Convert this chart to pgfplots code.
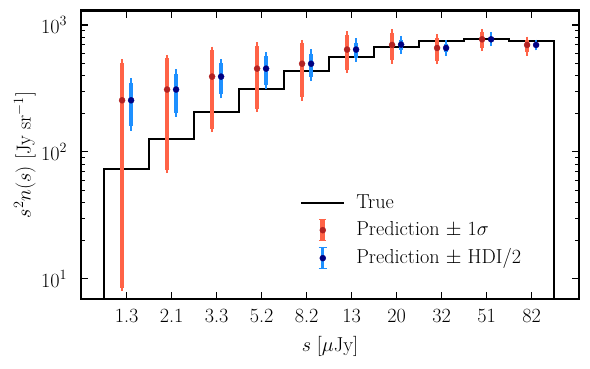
\RequirePackage{fix-cm}
\documentclass[border=0pt]{standalone}
\usepackage{fontspec}
\usepackage{pgfplots}
\pgfplotsset{compat=1.18}
\usepackage{pgfplotstable}

\definecolor{tomato}{HTML}{FF6347}
\definecolor{firebrick}{HTML}{B22222}
\definecolor{dodger}{HTML}{1E90FF}
\definecolor{navyb}{HTML}{000080}

\newcommand{\labfont}{\fontsize{20.2}{24}\selectfont}

% true histogram (bin edges in bin-index units)
\pgfplotstableread{
x y
-0.5 1
-0.5 73.5
0.5 126
1.5 206
2.5 312
3.5 435
4.5 560
5.5 667
6.5 748
7.5 776
8.5 751
9.5 751
9.5 1
}\truehist

% prediction +- 1 sigma
\pgfplotstableread{
x y ep em
0 255 250 246.5
1 310 237 237.5
2 392 243 240
3 453 234 234
4 495 222 225
5 640 199 195
6 696 174 169
7 659 135 138
8 771 104 109
9 696 66 87
}\predsig

% prediction +- HDI/2
\pgfplotstableread{
x y ep em
0 255 96 96
1 310 104 106
2 392 107 107
3 453 113 116
4 495 99 105
5 640 86 87
6 700 62 65
7 659 46 43
8 771 38 36
9 696 15 15
}\predhdi

\begin{document}
\begin{tikzpicture}[font=\labfont]
\begin{axis}[
  at={(0pt,0pt)}, anchor=south west,
  scale only axis,
  width=498.6pt, height=288.8pt,
  font=\labfont,
  ymode=log,
  xmin=-1.02, xmax=10.06,
  ymin=6.9, ymax=1300,
  xtick={0,...,9},
  xticklabels={1.3,2.1,3.3,5.2,8.2,13,20,32,51,82},
  ytick={10,100,1000},
  tick align=inside,
  major tick length=7.5pt,
  minor tick length=4pt,
  tick style={line width=1.1pt, black},
  axis line style={line width=2.2pt},
  tick label style={font=\labfont},
  xticklabel style={yshift=-6pt},
  yticklabel style={xshift=-10pt},
  xlabel={$s\;[\mu\mathrm{Jy}]$},
  ylabel={$s^2 n(s)$ [Jy sr$^{-1}$]},
  label style={font=\labfont},
  xlabel style={at={(axis description cs:0.5,-0.165)}, anchor=center},
  ylabel style={at={(axis description cs:-0.112,0.5)}, anchor=center},
  legend style={draw=none, fill=none, font=\labfont,
    at={(axis description cs:0.434,0.378)}, anchor=north west,
    row sep=3pt, column sep=11pt,
    nodes={inner sep=0pt, text height=14pt, text depth=4pt}},
  legend cell align=left,
]
\addplot[black, line width=2pt, const plot mark left,
  legend image code/.code={
    \path[draw=none, fill=none] (0pt,-11pt) rectangle (43pt,11pt);
    \draw[black, line width=2pt] (0pt,0pt) -- (43pt,0pt);}]
  table[x=x, y=y] {\truehist};
\addlegendentry{True}

\addplot[only marks, mark=*, mark size=3pt, color=firebrick,
  mark options={draw=none, fill=firebrick},
  error bars/.cd, y dir=both, y explicit,
  error bar style={line width=4.7pt, color=tomato},
  error mark=-, error mark options={line width=1.5pt, mark size=3.4pt, color=tomato},
  /pgfplots/legend image code/.code={
    \path[draw=none, fill=none] (0pt,-11pt) rectangle (43pt,11pt);
    \draw[tomato, line width=4.7pt] (21.5pt,-10.5pt) -- (21.5pt,10.5pt);
    \draw[tomato, line width=1.5pt] (18.1pt,-10.5pt) -- (24.9pt,-10.5pt)
      (18.1pt,10.5pt) -- (24.9pt,10.5pt);
    \fill[firebrick] (21.5pt,0pt) circle (3pt);}]
  table[x expr=\thisrow{x}-0.1, y=y, y error plus=ep, y error minus=em] {\predsig};
\addlegendentry{Prediction $\pm$ $1\sigma$}

\addplot[only marks, mark=*, mark size=3pt, color=navyb,
  mark options={draw=none, fill=navyb},
  error bars/.cd, y dir=both, y explicit,
  error bar style={line width=3.2pt, color=dodger},
  error mark=-, error mark options={line width=1.5pt, mark size=4.2pt, color=dodger},
  /pgfplots/legend image code/.code={
    \path[draw=none, fill=none] (0pt,-11pt) rectangle (43pt,11pt);
    \draw[dodger, line width=3.2pt] (21.5pt,-10.5pt) -- (21.5pt,10.5pt);
    \draw[dodger, line width=1.5pt] (17.3pt,-10.5pt) -- (25.7pt,-10.5pt)
      (17.3pt,10.5pt) -- (25.7pt,10.5pt);
    \fill[navyb] (21.5pt,0pt) circle (3pt);}]
  table[x expr=\thisrow{x}+0.1, y=y, y error plus=ep, y error minus=em] {\predhdi};
\addlegendentry{Prediction $\pm$ HDI/2}
\end{axis}
\pgfresetboundingbox
\path[use as bounding box] (-80.7pt,-69.7pt) rectangle (509.3pt,299.3pt);
\end{tikzpicture}
\end{document}
